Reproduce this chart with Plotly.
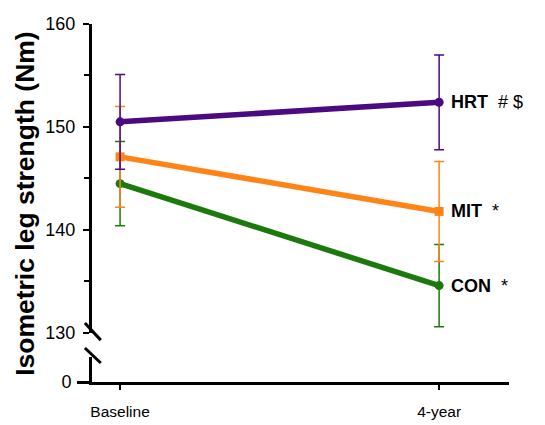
import plotly.graph_objects as go

timepoints = ["Baseline", "4-year"]
groups = ["CON", "MIT", "HRT"]
labels = {"HRT": "<b>HRT</b>\u00a0\u00a0# $", "MIT": "<b>MIT</b>\u00a0\u00a0*", "CON": "<b>CON</b>\u00a0\u00a0*"}
means = {
    "HRT": [150.5, 152.4],
    "MIT": [147.1, 141.8],
    "CON": [144.5, 134.6],
}
sds = {
    "HRT": [4.6, 4.6],
    "MIT": [4.9, 4.85],
    "CON": [4.1, 4.0],
}
colors = {"HRT": "#4B0A82", "MIT": "#FF8418", "CON": "#1C7A0C"}
symbols = {"HRT": "circle", "MIT": "square", "CON": "circle"}

xpos = list(range(len(timepoints)))
FONT = "Liberation Sans, Arial, Helvetica, sans-serif"

fig = go.Figure()
for g in groups:
    fig.add_trace(go.Scatter(
        x=xpos, y=means[g], mode="lines+markers",
        line=dict(color=colors[g], width=5.5),
        marker=dict(color=colors[g], size=9, symbol=symbols[g]),
        error_y=dict(type="data", array=sds[g], visible=True,
                     color=colors[g], thickness=1.5, width=5),
        xaxis="x", yaxis="y", showlegend=False, cliponaxis=False,
    ))

# invisible trace on the lower (broken) axis segment
fig.add_trace(go.Scatter(x=[0], y=[0], mode="markers", marker=dict(opacity=0),
                         xaxis="x", yaxis="y2", showlegend=False, hoverinfo="skip"))

for g in groups:
    fig.add_annotation(x=xpos[-1], y=means[g][-1], xref="x", yref="y",
                       text=labels[g], showarrow=False, xanchor="left",
                       xshift=10, font=dict(family=FONT, size=18, color="black"))

fig.add_annotation(x=-0.161, y=0.5, xref="paper", yref="paper",
                   text="<b>Isometric leg strength (Nm)</b>", textangle=-90,
                   showarrow=False, xanchor="center", yanchor="middle",
                   font=dict(family=FONT, size=26.5, color="black"))

# axis break slashes
for y0, y1 in [(0.165, 0.117), (0.095, 0.053)]:
    fig.add_shape(type="line", xref="paper", yref="paper",
                  x0=-0.017, x1=0.021, y0=y0, y1=y1,
                  line=dict(color="black", width=3))

fig.update_layout(
    width=545, height=425,
    margin=dict(l=92, r=36, t=24, b=43, autoexpand=False),
    plot_bgcolor="white", paper_bgcolor="white",
    font=dict(family=FONT, color="black"),
    xaxis=dict(domain=[0, 1], anchor="y2", range=[-0.088, 1.219],
               tickvals=xpos, ticktext=timepoints, ticks="outside",
               ticklen=5, tickwidth=2, tickcolor="black", ticklabelstandoff=8,
               showline=True, linewidth=3, linecolor="black", automargin=False,
               showgrid=False, zeroline=False,
               tickfont=dict(family=FONT, size=15.5, color="black")),
    yaxis=dict(domain=[0.137, 1], anchor="x", range=[130, 160],
               tickvals=[130, 140, 150, 160], ticks="outside", ticklen=6,
               tickwidth=2, tickcolor="black", ticklabelstandoff=4,
               minor=dict(dtick=5, ticks="outside", ticklen=5, tickwidth=2, tickcolor="black"),
               showline=True, linewidth=3, linecolor="black", automargin=False,
               showgrid=False, zeroline=False,
               tickfont=dict(family=FONT, size=18, color="black")),
    yaxis2=dict(domain=[0, 0.07], anchor="x", range=[0, 1],
                tickvals=[0], ticks="outside", ticklen=12, tickwidth=2.5,
                tickcolor="black", showline=True, linewidth=3, linecolor="black",
                showgrid=False, zeroline=False, ticklabelstandoff=2, automargin=False,
                tickfont=dict(family=FONT, size=18, color="black")),
)

fig.write_html("out.html", config={"displayModeBar": False},
               post_script="document.body.style.margin='0';"
                           "document.body.style.overflow='hidden';"
                           "document.documentElement.style.overflow='hidden';")
